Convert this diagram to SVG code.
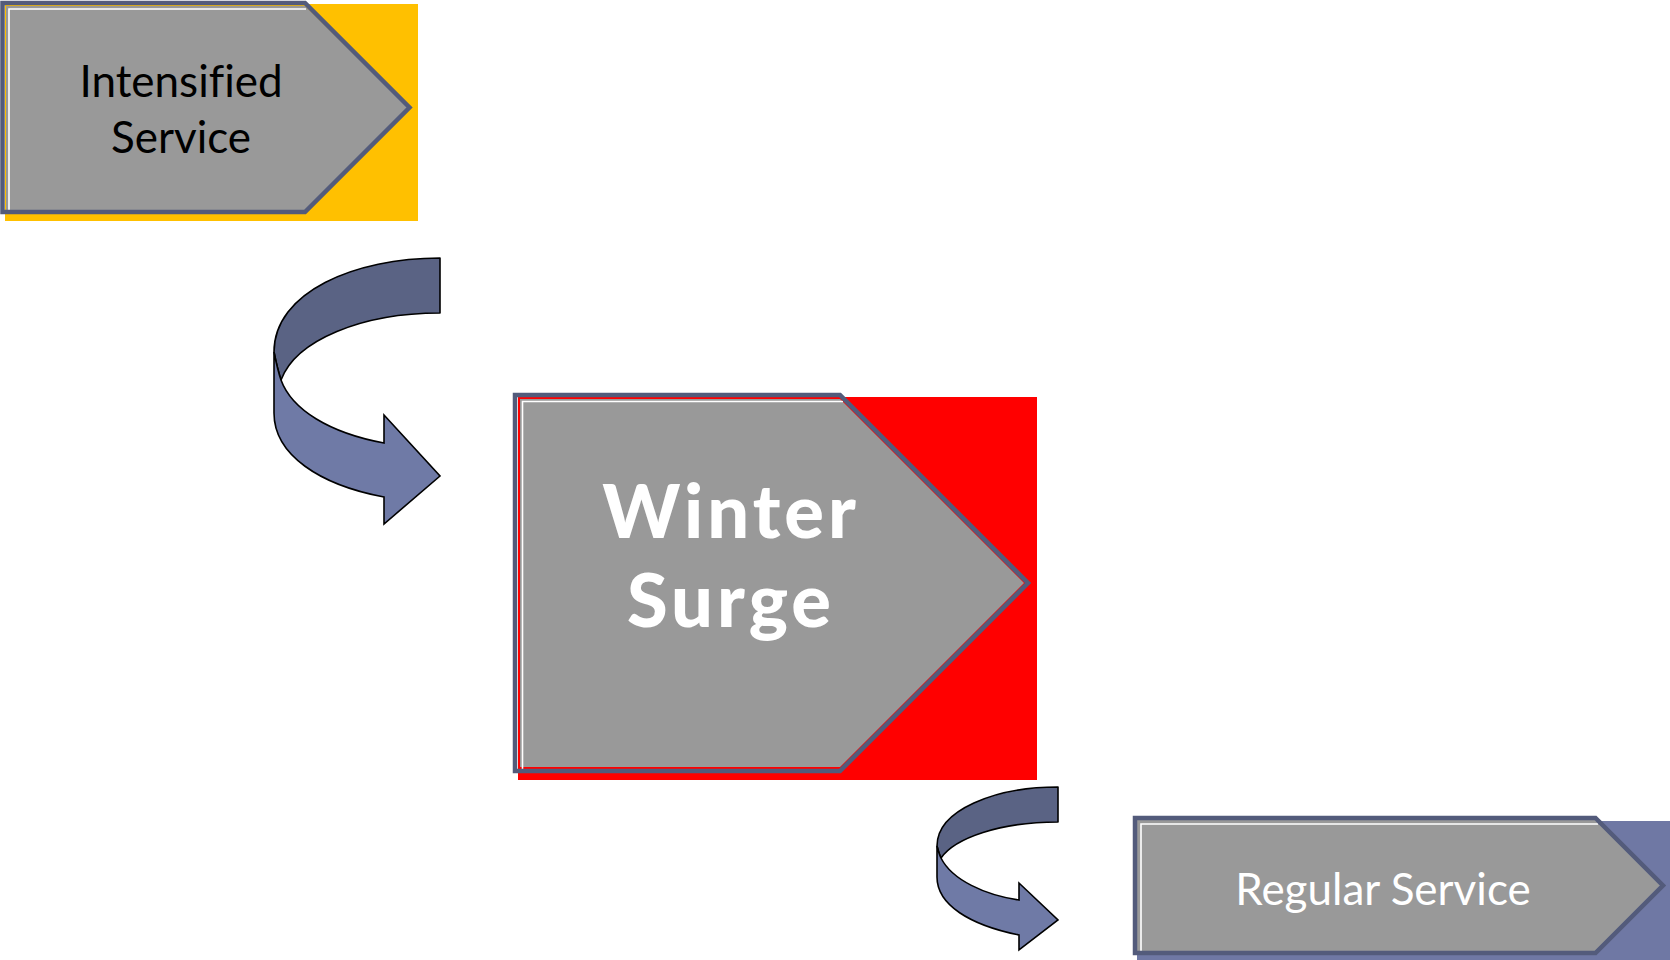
<svg xmlns="http://www.w3.org/2000/svg" width="1670" height="960" viewBox="0 0 1670 960">
<style>
.box{fill:#999999}
.frame{fill:none;stroke:#535b7b;stroke-width:4.5;stroke-linejoin:miter}
.hl{fill:none;stroke:#ffffff;stroke-width:1.6}
.lbl{font-family:Lato,"Open Sans","Liberation Sans",sans-serif;text-anchor:middle;font-variant-ligatures:none}
.dark{fill:#5a6384;stroke:#000;stroke-width:1.6;stroke-linejoin:round}
.light{fill:#6f7aa6;stroke:#000;stroke-width:1.6;stroke-linejoin:miter}
</style>
<rect width="1670" height="960" fill="#ffffff"/>

<g id="node-intensified">
<rect x="5" y="4" width="413" height="217" fill="#ffc000"/>
<polygon class="box" points="6,6 305,6 408,108 305,210 6,210"/>
<polyline class="hl" points="9,210 9,9 306,9"/>
<polygon class="frame" points="2.5,3 305,3 409.5,107.5 305,212 2.5,212"/>
<text class="lbl" x="181" y="97" font-size="44" fill="#000000">Intensified</text>
<text class="lbl" x="181" y="153" font-size="44" fill="#000000">Service</text>
</g>

<g id="node-winter">
<rect x="518" y="397" width="519" height="383" fill="#ff0000"/>
<polygon class="box" points="520,399 840,399 1024,583 840,767 520,767"/>
<polyline class="hl" points="522.5,769 522.5,401.5 843,401.5"/>
<polygon class="frame" points="515,395 840,395 1028,583 840,771 515,771"/>
<text class="lbl" x="731" y="538" font-size="74" font-weight="900" letter-spacing="4" fill="#ffffff">Winter</text>
<text class="lbl" x="731" y="627" font-size="74" font-weight="900" letter-spacing="4" fill="#ffffff">Surge</text>
</g>

<g id="node-regular">
<rect x="1137" y="821" width="533" height="139" fill="#6f78a4"/>
<polygon class="box" points="1137,820 1595,820 1660,885.5 1595,951 1137,951"/>
<polyline class="hl" points="1141,951 1141,824 1598,824"/>
<polygon class="frame" points="1135,818 1595.5,818 1663,885.5 1595.5,953 1135,953"/>
<text class="lbl" x="1383" y="905" font-size="44" fill="#ffffff">Regular Service</text>
</g>

<g id="connectors">
<g id="arrow-1">
<path class="dark" d="M440,258 C355,258 274,292 274,352 C276,362 278,371 281,380 C296,340 362,313 440,313 Z"/>
<path class="light" d="M274,352 L274,413 C274,455 320,485 384,497 L384,524 L440,476 L384,415 L384,443 C330,433 292,410 281,380 C278,371 276,362 274,352 Z"/>
</g>
<g id="arrow-2">
<path class="dark" d="M1058,787 C995,787 937,810 937,846 C938,850 939,854 941,858 C955,838 1000,822 1058,822 Z"/>
<path class="light" d="M937,846 L937,877 C937,905 970,925 1019,935 L1019,950 L1058,920 L1019,883 L1019,900 C985,895 952,880 941,858 C939,854 938,850 937,846 Z"/>
</g>
</g>
</svg>
